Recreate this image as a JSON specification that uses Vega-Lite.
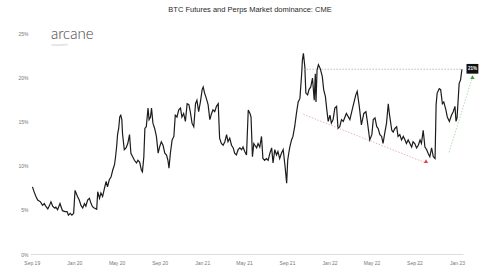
{
  "$schema": "https://vega.github.io/schema/vega-lite/v6.json",
  "width": 433,
  "height": 221,
  "autosize": {"type": "none"},
  "padding": {"left": 30, "top": 33, "right": 37, "bottom": 18},
  "background": "white",
  "config": {"view": {"stroke": null}, "font": "Liberation Sans"},
  "title": {"text": "BTC Futures and Perps Market dominance: CME", "fontSize": 7.5, "fontWeight": "normal", "color": "#2a2a2a", "offset": 13, "dx": 3.5},
  "datasets": {
    "main": [
      {"date":"2019-09-03","value":7.6},{"date":"2019-09-08","value":7.0},{"date":"2019-09-13","value":6.5},{"date":"2019-09-18","value":6.1},{"date":"2019-09-26","value":5.9},
      {"date":"2019-10-02","value":5.5},{"date":"2019-10-07","value":5.7},{"date":"2019-10-12","value":5.35},{"date":"2019-10-17","value":5.1},{"date":"2019-10-22","value":5.5},{"date":"2019-10-26","value":5.9},{"date":"2019-10-31","value":5.4},
      {"date":"2019-11-05","value":5.2},{"date":"2019-11-09","value":5.3},{"date":"2019-11-14","value":5.0},{"date":"2019-11-21","value":5.7},{"date":"2019-11-24","value":5.35},{"date":"2019-11-28","value":4.9},
      {"date":"2019-12-05","value":4.8},{"date":"2019-12-11","value":4.8},{"date":"2019-12-15","value":4.4},{"date":"2019-12-20","value":4.6},{"date":"2019-12-25","value":4.4},{"date":"2019-12-30","value":4.6},
      {"date":"2020-01-03","value":7.2},{"date":"2020-01-08","value":6.7},{"date":"2020-01-10","value":6.5},{"date":"2020-01-15","value":6.1},{"date":"2020-01-20","value":5.5},{"date":"2020-01-25","value":5.2},{"date":"2020-01-30","value":5.7},
      {"date":"2020-02-03","value":5.4},{"date":"2020-02-08","value":6.1},{"date":"2020-02-13","value":6.3},{"date":"2020-02-18","value":5.7},{"date":"2020-02-22","value":5.35},{"date":"2020-02-27","value":5.2},
      {"date":"2020-03-05","value":5.05},{"date":"2020-03-08","value":7.05},{"date":"2020-03-13","value":6.3},{"date":"2020-03-17","value":6.9},{"date":"2020-03-22","value":6.5},{"date":"2020-03-27","value":7.4},
      {"date":"2020-04-01","value":8.2},{"date":"2020-04-05","value":7.6},{"date":"2020-04-10","value":8.4},{"date":"2020-04-15","value":8.7},{"date":"2020-04-20","value":9.5},{"date":"2020-04-25","value":10.1},{"date":"2020-04-28","value":11.0},
      {"date":"2020-05-01","value":12.1},{"date":"2020-05-04","value":13.6},{"date":"2020-05-07","value":14.2},{"date":"2020-05-10","value":15.5},{"date":"2020-05-13","value":15.7},{"date":"2020-05-16","value":15.2},{"date":"2020-05-18","value":13.6},{"date":"2020-05-23","value":11.8},{"date":"2020-05-28","value":12.0},
      {"date":"2020-06-02","value":12.5},{"date":"2020-06-07","value":13.5},{"date":"2020-06-11","value":11.4},{"date":"2020-06-16","value":11.0},{"date":"2020-06-21","value":10.6},{"date":"2020-06-27","value":10.3},
      {"date":"2020-07-01","value":10.6},{"date":"2020-07-06","value":10.4},{"date":"2020-07-11","value":9.5},{"date":"2020-07-14","value":9.3},{"date":"2020-07-18","value":11.0},{"date":"2020-07-21","value":14.2},{"date":"2020-07-25","value":14.4},{"date":"2020-07-30","value":16.5},
      {"date":"2020-08-02","value":15.2},{"date":"2020-08-06","value":15.5},{"date":"2020-08-09","value":16.5},{"date":"2020-08-13","value":14.8},{"date":"2020-08-18","value":14.2},{"date":"2020-08-23","value":13.3},{"date":"2020-08-28","value":11.4},
      {"date":"2020-09-01","value":12.1},{"date":"2020-09-06","value":12.7},{"date":"2020-09-11","value":12.3},{"date":"2020-09-16","value":11.4},{"date":"2020-09-21","value":11.2},{"date":"2020-09-25","value":10.6},{"date":"2020-09-28","value":9.7},
      {"date":"2020-10-02","value":11.4},{"date":"2020-10-07","value":12.9},{"date":"2020-10-12","value":13.3},{"date":"2020-10-16","value":15.7},{"date":"2020-10-21","value":15.5},{"date":"2020-10-26","value":16.3},{"date":"2020-10-31","value":16.5},
      {"date":"2020-11-04","value":15.5},{"date":"2020-11-09","value":15.9},{"date":"2020-11-14","value":15.0},{"date":"2020-11-19","value":17.0},{"date":"2020-11-24","value":16.9},{"date":"2020-11-28","value":16.1},
      {"date":"2020-12-03","value":14.8},{"date":"2020-12-08","value":14.4},{"date":"2020-12-13","value":17.0},{"date":"2020-12-17","value":17.4},{"date":"2020-12-22","value":16.1},{"date":"2020-12-27","value":17.2},
      {"date":"2021-01-01","value":18.6},{"date":"2021-01-04","value":18.9},{"date":"2021-01-08","value":18.2},{"date":"2021-01-13","value":17.6},{"date":"2021-01-18","value":16.9},{"date":"2021-01-23","value":15.2},{"date":"2021-01-28","value":15.9},
      {"date":"2021-02-01","value":16.3},{"date":"2021-02-06","value":16.1},{"date":"2021-02-11","value":16.7},{"date":"2021-02-16","value":17.0},{"date":"2021-02-20","value":13.1},{"date":"2021-02-25","value":12.5},
      {"date":"2021-03-02","value":12.3},{"date":"2021-03-07","value":12.7},{"date":"2021-03-12","value":13.5},{"date":"2021-03-16","value":12.7},{"date":"2021-03-21","value":13.1},{"date":"2021-03-26","value":12.3},{"date":"2021-03-31","value":12.0},
      {"date":"2021-04-04","value":11.4},{"date":"2021-04-09","value":11.2},{"date":"2021-04-14","value":11.8},{"date":"2021-04-19","value":12.0},{"date":"2021-04-24","value":11.8},{"date":"2021-04-28","value":12.1},
      {"date":"2021-05-03","value":11.6},{"date":"2021-05-08","value":11.2},{"date":"2021-05-13","value":16.3},{"date":"2021-05-18","value":15.9},{"date":"2021-05-21","value":15.5},{"date":"2021-05-25","value":11.0},{"date":"2021-05-29","value":12.5},
      {"date":"2021-06-01","value":12.3},{"date":"2021-06-06","value":12.0},{"date":"2021-06-10","value":12.5},{"date":"2021-06-15","value":12.1},{"date":"2021-06-20","value":13.3},{"date":"2021-06-24","value":10.8},{"date":"2021-06-29","value":10.6},
      {"date":"2021-07-04","value":10.8},{"date":"2021-07-09","value":10.6},{"date":"2021-07-14","value":11.4},{"date":"2021-07-19","value":12.0},{"date":"2021-07-23","value":10.3},{"date":"2021-07-28","value":11.8},
      {"date":"2021-08-02","value":11.2},{"date":"2021-08-06","value":11.6},{"date":"2021-08-11","value":10.8},{"date":"2021-08-16","value":11.4},{"date":"2021-08-21","value":11.8},{"date":"2021-08-26","value":10.1},{"date":"2021-08-31","value":8.0},
      {"date":"2021-09-03","value":10.6},{"date":"2021-09-06","value":11.4},{"date":"2021-09-09","value":12.1},{"date":"2021-09-14","value":12.9},{"date":"2021-09-18","value":13.3},{"date":"2021-09-23","value":14.4},{"date":"2021-09-28","value":15.9},
      {"date":"2021-10-03","value":17.2},{"date":"2021-10-08","value":17.6},{"date":"2021-10-13","value":20.4},{"date":"2021-10-15","value":21.9},{"date":"2021-10-18","value":22.7},{"date":"2021-10-22","value":21.2},{"date":"2021-10-25","value":18.2},{"date":"2021-10-30","value":18.0},
      {"date":"2021-11-03","value":18.6},{"date":"2021-11-08","value":18.9},{"date":"2021-11-13","value":19.9},{"date":"2021-11-18","value":17.4},{"date":"2021-11-21","value":20.4},{"date":"2021-11-23","value":17.2},{"date":"2021-11-26","value":20.8},{"date":"2021-11-30","value":21.4},
      {"date":"2021-12-05","value":21.0},{"date":"2021-12-11","value":20.1},{"date":"2021-12-15","value":18.6},{"date":"2021-12-20","value":17.8},{"date":"2021-12-24","value":16.3},{"date":"2021-12-28","value":15.0},
      {"date":"2022-01-02","value":15.7},{"date":"2022-01-06","value":14.8},{"date":"2022-01-11","value":15.2},{"date":"2022-01-16","value":16.5},{"date":"2022-01-21","value":16.7},{"date":"2022-01-25","value":14.2},{"date":"2022-01-30","value":14.4},
      {"date":"2022-02-04","value":15.2},{"date":"2022-02-09","value":15.0},{"date":"2022-02-18","value":15.9},{"date":"2022-02-28","value":15.2},
      {"date":"2022-03-09","value":16.7},{"date":"2022-03-17","value":18.0},{"date":"2022-03-21","value":18.4},{"date":"2022-03-27","value":16.7},
      {"date":"2022-04-02","value":14.6},{"date":"2022-04-09","value":15.9},{"date":"2022-04-15","value":16.1},{"date":"2022-04-19","value":15.0},{"date":"2022-04-26","value":12.9},
      {"date":"2022-05-02","value":13.5},{"date":"2022-05-06","value":15.2},{"date":"2022-05-11","value":15.4},{"date":"2022-05-16","value":14.4},{"date":"2022-05-20","value":14.2},{"date":"2022-05-25","value":13.5},{"date":"2022-05-30","value":13.3},
      {"date":"2022-06-03","value":12.5},{"date":"2022-06-08","value":13.7},{"date":"2022-06-13","value":14.8},{"date":"2022-06-18","value":17.0},{"date":"2022-06-21","value":15.9},{"date":"2022-06-28","value":14.0},
      {"date":"2022-07-02","value":13.8},{"date":"2022-07-07","value":14.2},{"date":"2022-07-12","value":14.4},{"date":"2022-07-16","value":13.3},{"date":"2022-07-21","value":13.5},{"date":"2022-07-26","value":12.9},{"date":"2022-07-31","value":13.3},
      {"date":"2022-08-05","value":12.9},{"date":"2022-08-09","value":12.5},{"date":"2022-08-14","value":12.9},{"date":"2022-08-19","value":12.5},{"date":"2022-08-24","value":12.1},{"date":"2022-08-28","value":12.7},
      {"date":"2022-09-02","value":12.5},{"date":"2022-09-07","value":12.0},{"date":"2022-09-12","value":12.3},{"date":"2022-09-17","value":12.9},{"date":"2022-09-21","value":12.5},{"date":"2022-09-26","value":14.0},
      {"date":"2022-10-01","value":12.1},{"date":"2022-10-06","value":11.8},{"date":"2022-10-10","value":11.4},{"date":"2022-10-15","value":11.0},{"date":"2022-10-20","value":12.0},{"date":"2022-10-25","value":11.0},{"date":"2022-10-30","value":10.8},
      {"date":"2022-11-02","value":16.9},{"date":"2022-11-05","value":18.2},{"date":"2022-11-11","value":18.7},{"date":"2022-11-15","value":18.6},{"date":"2022-11-20","value":17.0},{"date":"2022-11-24","value":17.2},{"date":"2022-11-30","value":16.3},
      {"date":"2022-12-04","value":15.5},{"date":"2022-12-10","value":15.0},{"date":"2022-12-16","value":15.7},{"date":"2022-12-21","value":16.1},{"date":"2022-12-26","value":16.7},{"date":"2022-12-29","value":15.0},
      {"date":"2023-01-01","value":15.4},{"date":"2023-01-07","value":19.3},{"date":"2023-01-11","value":19.7},{"date":"2023-01-15","value":20.9}
    ],
    "guides": [
      {"kind":"level","date":"2021-10-18","value":20.9,"date2":"2023-01-15","value2":20.9,"color":"#aaaaaa"},
      {"kind":"down","date":"2021-10-18","value":15.8,"date2":"2022-10-04","value2":10.3,"color":"#e8a0a0"},
      {"kind":"up","date":"2022-12-09","value":11.5,"date2":"2023-02-14","value2":20.0,"color":"#9fd39f"}
    ],
    "arrows": [
      {"date":"2022-10-04","value":10.5,"color":"#e04040"},
      {"date":"2023-02-14","value":20.0,"color":"#3c9a3c"}
    ],
    "tag": [
      {"date":"2023-01-28","date2":"2023-03-03","value":21.5,"value2":20.4,"mid":"2023-02-14","midv":20.95,"label":"21%"}
    ],
    "logo": [
      {"date":"2019-10-26","value":24.35,"label":"arcane","size":15,"color":"#444444"},
      {"date":"2019-10-27","value":23.5,"label":"research","size":4.5,"color":"#999999"}
    ]
  },
  "encoding": {
    "x": {"field": "date", "type": "temporal",
      "scale": {"domain": [{"year":2019,"month":8,"date":27},{"year":2023,"month":1,"date":18}]},
      "axis": {"title": null, "grid": false, "ticks": false, "domainColor": "#dddddd", "domainWidth": 1,
        "labelFontSize": 5, "labelColor": "#777777", "labelPadding": 6, "format": "%b %y",
        "tickCount": {"interval": "month", "step": 4}, "labelFlush": false}},
    "y": {"field": "value", "type": "quantitative",
      "scale": {"domain": [0, 25], "nice": false, "zero": true},
      "axis": {"title": null, "grid": false, "ticks": false, "domain": false,
        "values": [0,5,10,15,20,25], "labelExpr": "datum.value + '%'",
        "labelFontSize": 5, "labelColor": "#777777", "labelPadding": 2}}
  },
  "layer": [
    {"data": {"name": "main"}, "mark": {"type": "line", "color": "#1c1c1c", "strokeWidth": 1.2, "strokeJoin": "miter"}},
    {"data": {"name": "guides"}, "mark": {"type": "rule", "strokeDash": [1.5, 1.5], "strokeWidth": 0.8},
      "encoding": {"x2": {"field": "date2"}, "y2": {"field": "value2"}, "color": {"field": "color", "type": "nominal", "scale": null}}},
    {"data": {"name": "arrows"}, "mark": {"type": "point", "shape": "triangle-up", "filled": true, "size": 18, "opacity": 1},
      "encoding": {"color": {"field": "color", "type": "nominal", "scale": null}}},
    {"data": {"name": "tag"}, "mark": {"type": "rect", "color": "#111111"},
      "encoding": {"x2": {"field": "date2"}, "y2": {"field": "value2"}}},
    {"data": {"name": "tag"}, "mark": {"type": "text", "color": "white", "fontSize": 4.5, "fontWeight": "bold", "align": "center", "baseline": "middle"},
      "encoding": {"x": {"field": "mid", "type": "temporal"}, "y": {"field": "midv", "type": "quantitative"}, "text": {"field": "label"}}},
    {"data": {"name": "logo"}, "mark": {"type": "text", "align": "left", "baseline": "alphabetic", "font": "Lato", "fontWeight": 300},
      "encoding": {"text": {"field": "label"}, "size": {"field": "size", "type": "quantitative", "scale": null}, "color": {"field": "color", "type": "nominal", "scale": null}}}
  ]
}
